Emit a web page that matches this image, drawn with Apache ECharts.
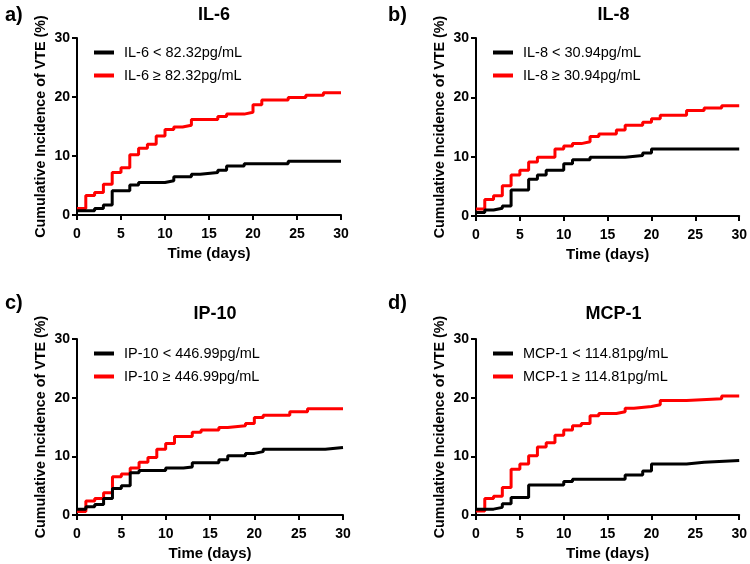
<!DOCTYPE html>
<html><head><meta charset="utf-8">
<script src="https://cdn.jsdelivr.net/npm/echarts@6/dist/echarts.min.js"></script>
<style>html,body{margin:0;padding:0;background:#fff}#c{width:750px;height:564px}</style>
</head><body><div id="c"></div>
<script>
// ---- data ----
const panelTitles = ['IL-6', 'IL-8', 'IP-10', 'MCP-1'];
const panelLetters = ['a)', 'b)', 'c)', 'd)'];
const lowNames = ['IL-6 < 82.32pg/mL', 'IL-8 < 30.94pg/mL', 'IP-10 < 446.99pg/mL', 'MCP-1 < 114.81pg/mL'];
const highNames = ['IL-6 ≥ 82.32pg/mL', 'IL-8 ≥ 30.94pg/mL', 'IP-10 ≥ 446.99pg/mL', 'MCP-1 ≥ 114.81pg/mL'];
const xTicks = [0, 5, 10, 15, 20, 25, 30];
const yTicks = [0, 10, 20, 30];

// IL-6
const il6LowDays  = [0, 2, 3, 4, 6, 7, 10, 11, 13, 14, 16, 17, 19, 24, 30];
const il6LowVals  = [0.7, 1.1, 1.7, 4.1, 5.1, 5.5, 5.8, 6.5, 6.9, 7.2, 7.6, 8.3, 8.7, 9.1, 9.1];
const il6HighDays = [0, 1, 2, 3, 4, 5, 6, 7, 8, 9, 10, 11, 12, 13, 16, 17, 19, 20, 21, 24, 26, 28, 30];
const il6HighVals = [1.1, 3.3, 3.8, 5.2, 7.2, 8.0, 10.2, 11.3, 12.0, 13.4, 14.5, 14.9, 15.2, 16.2, 16.7, 17.1, 17.4, 18.7, 19.5, 19.9, 20.3, 20.7, 20.7];
// IL-8
const il8LowDays  = [0, 1, 2, 3, 4, 6, 7, 8, 10, 11, 13, 17, 19, 20, 30];
const il8LowVals  = [0.6, 1.0, 1.3, 1.7, 4.4, 6.2, 6.9, 7.7, 8.8, 9.5, 9.9, 10.2, 10.6, 11.3, 11.3];
const il8HighDays = [0, 1, 2, 3, 4, 5, 6, 7, 9, 10, 11, 12, 13, 14, 16, 17, 19, 20, 21, 24, 26, 28, 30];
const il8HighVals = [1.2, 2.8, 3.4, 5.1, 6.9, 7.7, 9.1, 9.9, 11.3, 11.8, 12.2, 12.5, 13.4, 13.8, 14.5, 15.3, 15.8, 16.4, 17.0, 17.8, 18.2, 18.6, 18.6];
// IP-10
const ip10LowDays  = [0, 1, 2, 3, 4, 5, 6, 7, 10, 12, 13, 16, 17, 19, 20, 21, 28, 30];
const ip10LowVals  = [1.0, 1.4, 1.8, 2.8, 4.5, 5.0, 7.2, 7.6, 8.0, 8.2, 8.9, 9.4, 10.1, 10.5, 10.8, 11.2, 11.5, 11.5];
const ip10HighDays = [0, 1, 2, 3, 4, 5, 6, 7, 8, 9, 10, 11, 13, 14, 16, 17, 19, 20, 21, 24, 26, 30];
const ip10HighVals = [0.6, 2.4, 2.8, 3.8, 6.5, 7.0, 8.0, 9.0, 9.8, 11.2, 12.2, 13.4, 14.1, 14.5, 14.9, 15.2, 15.6, 16.6, 17.0, 17.6, 18.1, 18.1];
// MCP-1
const mcp1LowDays  = [0, 2, 3, 4, 6, 10, 11, 17, 19, 20, 24, 26, 30];
const mcp1LowVals  = [1.0, 1.3, 1.9, 3.0, 5.1, 5.7, 6.1, 6.8, 7.5, 8.7, 9.0, 9.3, 9.3];
const mcp1HighDays = [0, 1, 2, 3, 4, 5, 6, 7, 8, 9, 10, 11, 12, 13, 14, 16, 17, 18, 20, 21, 24, 28, 30];
const mcp1HighVals = [0.7, 2.8, 3.2, 4.7, 7.8, 8.7, 10.1, 11.6, 12.3, 13.6, 14.5, 15.2, 15.6, 16.9, 17.3, 17.6, 18.2, 18.5, 18.8, 19.5, 19.8, 20.3, 20.3];

const lowDays = [il6LowDays, il8LowDays, ip10LowDays, mcp1LowDays];
const lowVals = [il6LowVals, il8LowVals, ip10LowVals, mcp1LowVals];
const highDays = [il6HighDays, il8HighDays, ip10HighDays, mcp1HighDays];
const highVals = [il6HighVals, il8HighVals, ip10HighVals, mcp1HighVals];

// ---- layout ----
const FONT = 'Arial, "Liberation Sans", sans-serif';
const grids = [
  {left: 77, top: 38, width: 264, height: 177},
  {left: 476, top: 38, width: 265, height: 178},
  {left: 77, top: 339, width: 266, height: 176},
  {left: 476, top: 339, width: 265, height: 176}
];
const pair = (d, v) => d.map((x, i) => [x, v[i]]);

const option = {
  animation: false,
  backgroundColor: '#fff',
  title: [],
  legend: [],
  grid: grids.map(g => Object.assign({containLabel: false}, g)),
  xAxis: [], yAxis: [], series: []
};

grids.forEach((g, i) => {
  option.title.push({
    text: panelTitles[i], left: g.left + g.width / 2, top: i < 2 ? 1 : 300, textAlign: 'center',
    textStyle: {fontFamily: FONT, fontWeight: 'bold', fontSize: 18, color: '#000'}
  });
  option.title.push({
    text: panelLetters[i], left: i % 2 === 0 ? 0 : 383, top: i < 2 ? 0 : 288,
    textStyle: {fontFamily: FONT, fontWeight: 'bold', fontSize: 20, color: '#000'}
  });
  option.legend.push({
    left: g.left + 12, top: g.top + 2, orient: 'vertical', itemGap: 8,
    icon: 'rect', itemWidth: 20, itemHeight: 4,
    data: [lowNames[i], highNames[i]],
    textStyle: {fontFamily: FONT, fontSize: 14.5, color: '#000', padding: [0, 0, 0, 5]}
  });
  const axisCommon = {
    gridIndex: i, type: 'value', min: 0, max: 30,
    axisLine: {show: true, lineStyle: {color: '#000', width: 2}},
    axisTick: {show: true, length: 5, lineStyle: {color: '#000', width: 2}},
    splitLine: {show: false},
    axisLabel: {fontFamily: FONT, fontWeight: 'bold', fontSize: 14, color: '#000', margin: 12},
    nameTextStyle: {fontFamily: FONT, fontWeight: 'bold', fontSize: 15, color: '#000'}
  };
  option.xAxis.push(Object.assign({}, axisCommon, {
    interval: xTicks[1] - xTicks[0], name: 'Time (days)', nameLocation: 'middle', nameGap: 31
  }));
  option.yAxis.push(Object.assign({}, axisCommon, {
    interval: yTicks[1] - yTicks[0], name: 'Cumulative Incidence of VTE (%)', nameLocation: 'middle', nameGap: 29,
    axisLabel: {fontFamily: FONT, fontWeight: 'bold', fontSize: 14, color: '#000', margin: 7},
    nameTextStyle: {fontFamily: FONT, fontWeight: 'bold', fontSize: 14.3, color: '#000'}
  }));
  option.series.push({
    name: lowNames[i], type: 'line', step: 'end', xAxisIndex: i, yAxisIndex: i,
    data: pair(lowDays[i], lowVals[i]), symbol: 'none', z: 3,
    lineStyle: {color: '#000', width: 3}, itemStyle: {color: '#000'}
  });
  option.series.push({
    name: highNames[i], type: 'line', step: 'end', xAxisIndex: i, yAxisIndex: i,
    data: pair(highDays[i], highVals[i]), symbol: 'none', z: 2,
    lineStyle: {color: '#ff0000', width: 3}, itemStyle: {color: '#ff0000'}
  });
});

const chart = echarts.init(document.getElementById('c'), null, {renderer: 'canvas'});
chart.setOption(option);
</script></body></html>
